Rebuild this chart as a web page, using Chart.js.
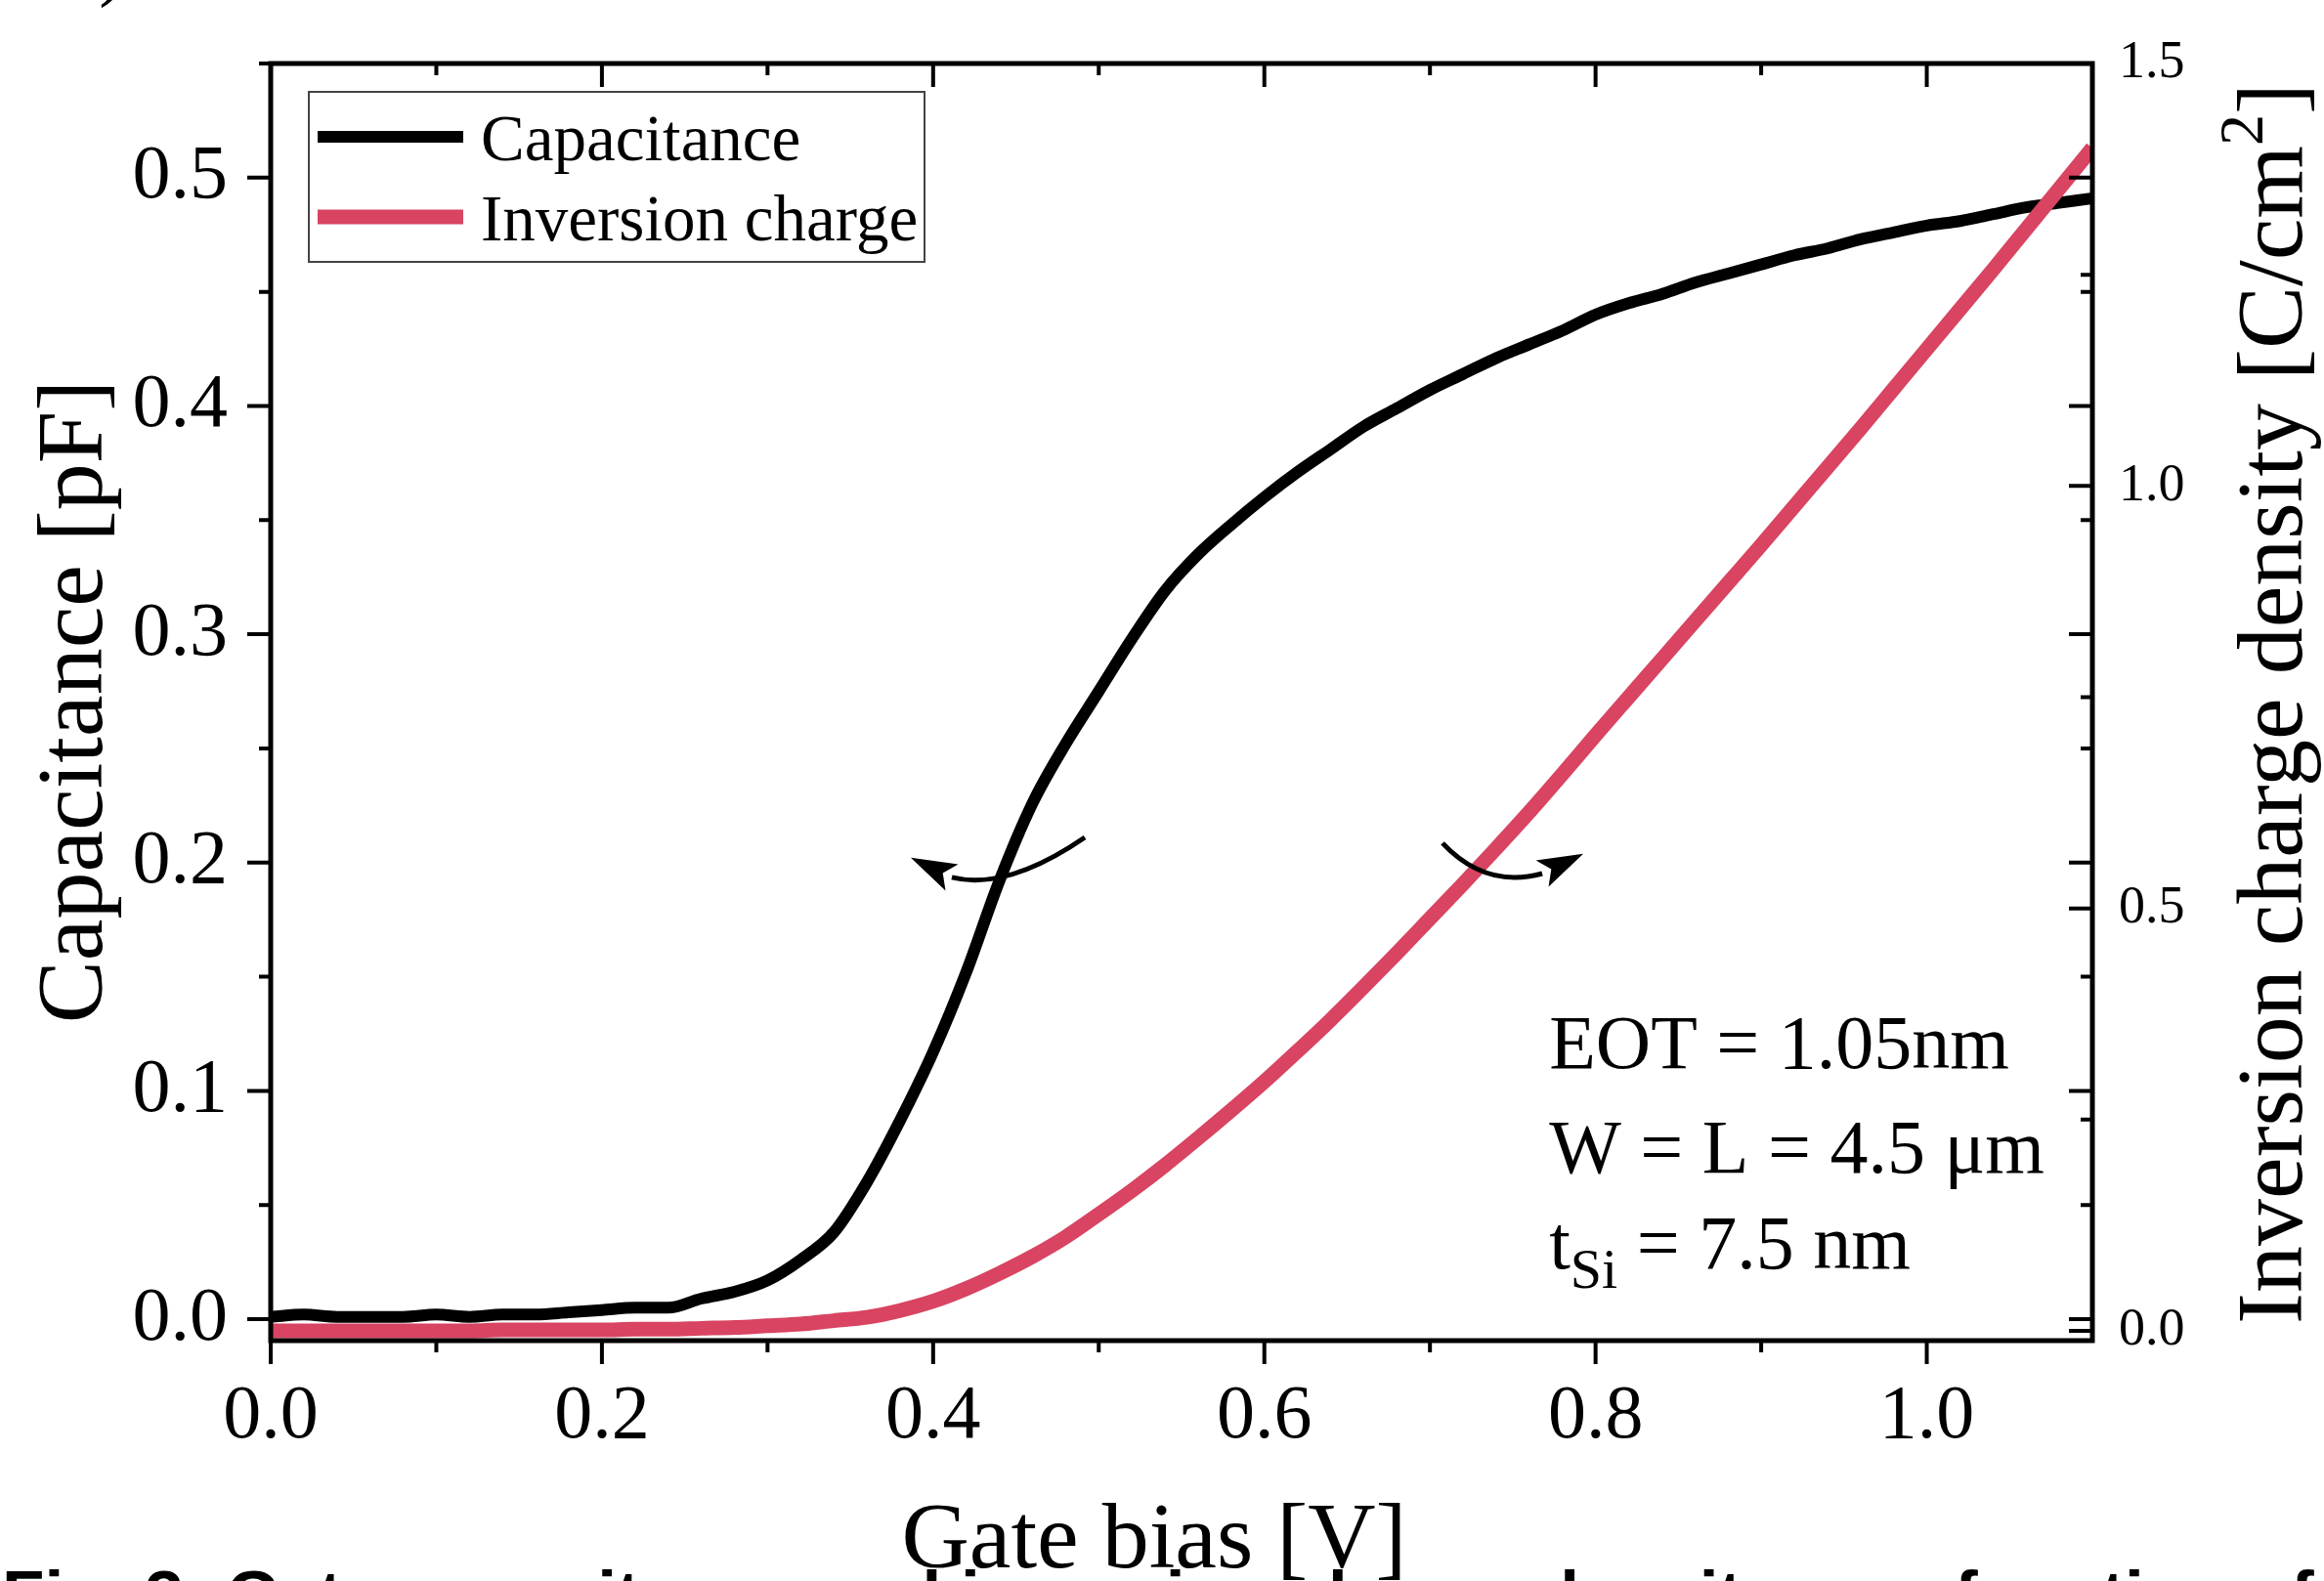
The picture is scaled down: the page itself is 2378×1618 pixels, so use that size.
<!DOCTYPE html>
<html>
<head>
<meta charset="utf-8">
<title>Gate capacitance and inversion charge density</title>
<script src="https://cdn.jsdelivr.net/npm/chart.js@4.4.1/dist/chart.umd.min.js"></script>
<style>
    html, body { margin: 0; padding: 0; background: #fff; }
    #cv-chart { display: block; }
</style>
</head>
<body>
<canvas id="cv-chart" width="2378" height="1618"></canvas>
<script>
// Gate bias sweep [V]
const gateBias = [0.00, 0.02, 0.04, 0.06, 0.08, 0.10, 0.12, 0.14, 0.16, 0.18,
    0.20, 0.22, 0.24, 0.26, 0.28, 0.30, 0.32, 0.34, 0.36, 0.38,
    0.40, 0.42, 0.44, 0.46, 0.48, 0.50, 0.52, 0.54, 0.56, 0.58,
    0.60, 0.62, 0.64, 0.66, 0.68, 0.70, 0.72, 0.74, 0.76, 0.78,
    0.80, 0.82, 0.84, 0.86, 0.88, 0.90, 0.92, 0.94, 0.96, 0.98,
    1.00, 1.02, 1.04, 1.06, 1.08, 1.10];

// Capacitance [pF] (left axis)
const capacitance = [0.001, 0.002, 0.001, 0.001, 0.001, 0.002, 0.001, 0.002, 0.002, 0.003,
    0.004, 0.005, 0.005, 0.009, 0.012, 0.017, 0.026, 0.038, 0.060, 0.087,
    0.117, 0.152, 0.192, 0.226, 0.252, 0.275, 0.298, 0.319, 0.335, 0.348,
    0.360, 0.371, 0.381, 0.391, 0.399, 0.407, 0.414, 0.421, 0.427, 0.433,
    0.440, 0.445, 0.449, 0.454, 0.458, 0.462, 0.466, 0.469, 0.473, 0.476,
    0.479, 0.481, 0.484, 0.487, 0.489, 0.491];

// Inversion charge density [C/cm2] (right axis)
const inversionCharge = [0.000, 0.000, 0.000, 0.000, 0.000, 0.000, 0.000, 0.001, 0.001, 0.001,
    0.001, 0.002, 0.002, 0.003, 0.004, 0.006, 0.008, 0.012, 0.016, 0.024,
    0.035, 0.050, 0.068, 0.088, 0.111, 0.138, 0.166, 0.196, 0.228, 0.261,
    0.295, 0.331, 0.368, 0.407, 0.447, 0.488, 0.529, 0.571, 0.614, 0.659,
    0.705, 0.750, 0.795, 0.840, 0.885, 0.930, 0.976, 1.022, 1.068, 1.115,
    1.162, 1.209, 1.256, 1.304, 1.352, 1.400];

// Tick values
const xTicks = [0, 0.2, 0.4, 0.6, 0.8, 1.0];
const xMinorTicks = [0.1, 0.3, 0.5, 0.7, 0.9];
const capTicks = [0, 0.1, 0.2, 0.3, 0.4, 0.5];
const capMinorTicks = [0.05, 0.15, 0.25, 0.35, 0.45, 0.55];
const chargeTicks = [0, 0.5, 1.0, 1.5];
const chargeMinorTicks = [0.25, 0.75, 1.25];

const seriesLabels = ['Capacitance', 'Inversion charge'];
const SERIF = "'Liberation Serif', 'Times New Roman', Times, serif";
const SANS = "'Liberation Sans', Arial, Helvetica, sans-serif";
const RED = '#d84462';

// Curved arrows, in (bias, capacitance) units
const arrowToCap = { from: [0.4916, 0.2110], ctrl: [0.4444, 0.1875], to: [0.4113, 0.1935], tip: [0.3865, 0.2021] };
const arrowToCharge = { from: [0.7076, 0.2085], ctrl: [0.7336, 0.1884], to: [0.7678, 0.1952], tip: [0.7926, 0.2038] };

// Fixed axis box sizes so the plot area lands where the figure has it
function fixBox(size) {
    return function(scale) {
        if (scale.isHorizontal()) {
            scale.height = size;
            scale.paddingLeft = 0;
            scale.paddingRight = 0;
        } else {
            scale.width = size;
            scale.paddingTop = 0;
            scale.paddingBottom = 0;
        }
    };
}

document.addEventListener('DOMContentLoaded', function() {
    const ctx = document.getElementById('cv-chart').getContext('2d');
    window.cvChart = new Chart(ctx, {
        type: 'line',
        data: {
            datasets: [{
                label: seriesLabels[0],
                data: gateBias.map((v, i) => ({ x: v, y: capacitance[i] })),
                yAxisID: 'y',
                borderColor: '#000',
                borderWidth: 12,
                borderJoinStyle: 'round',
                pointRadius: 0,
                cubicInterpolationMode: 'monotone',
                order: 1
            }, {
                label: seriesLabels[1],
                data: gateBias.map((v, i) => ({ x: v, y: inversionCharge[i] })),
                yAxisID: 'y2',
                borderColor: RED,
                borderWidth: 15,
                borderJoinStyle: 'round',
                pointRadius: 0,
                cubicInterpolationMode: 'monotone',
                order: 0
            }]
        },
        options: {
            responsive: false,
            animation: false,
            devicePixelRatio: 1,
            layout: { padding: { top: 65, left: 0, right: 0, bottom: 0 } },
            plugins: {
                legend: { display: false },
                tooltip: { enabled: false },
                title: { display: false }
            },
            scales: {
                x: {
                    type: 'linear',
                    min: 0,
                    max: 1.1,
                    grid: { display: false, drawTicks: false },
                    border: { display: false },
                    afterBuildTicks: function(scale) {
                        scale.ticks = xTicks.map(v => ({ value: v }));
                    },
                    afterFit: fixBox(246),
                    ticks: {
                        font: { family: SERIF, size: 78 },
                        color: '#000',
                        padding: 32,
                        maxRotation: 0,
                        callback: v => v.toFixed(1)
                    }
                },
                y: {
                    type: 'linear',
                    position: 'left',
                    min: -0.0094,
                    max: 0.55,
                    grid: { display: false, drawTicks: false },
                    border: { display: false },
                    afterBuildTicks: function(scale) {
                        scale.ticks = capTicks.map(v => ({ value: v }));
                    },
                    afterFit: fixBox(277),
                    ticks: {
                        font: { family: SERIF, size: 78 },
                        color: '#000',
                        padding: 44,
                        callback: v => v.toFixed(1)
                    }
                },
                y2: {
                    type: 'linear',
                    position: 'right',
                    min: -0.0116,
                    max: 1.5,
                    grid: { display: false, drawTicks: false },
                    border: { display: false },
                    afterBuildTicks: function(scale) {
                        scale.ticks = chargeTicks.map(v => ({ value: v }));
                    },
                    afterFit: fixBox(237),
                    ticks: {
                        font: { family: SERIF, size: 54 },
                        color: '#000',
                        padding: 27,
                        callback: v => v.toFixed(1)
                    }
                }
            }
        },
        plugins: [frameAndTicks, legendBox, annotations, axisTitles]
    });
});

// Box frame with Origin-style ticks (outer on left/bottom, inner on top/right)
const frameAndTicks = {
    id: 'frameAndTicks',
    afterDatasetsDraw(chart) {
        const { ctx, chartArea: a, scales } = chart;
        const major = 24, minor = 12;
        ctx.save();
        ctx.strokeStyle = '#000';
        ctx.lineWidth = 4;
        ctx.beginPath();
        xTicks.concat(xMinorTicks).forEach(v => {
            const px = scales.x.getPixelForValue(v);
            const len = xTicks.includes(v) ? major : minor;
            ctx.moveTo(px, a.bottom); ctx.lineTo(px, a.bottom + len);
            ctx.moveTo(px, a.top); ctx.lineTo(px, a.top + len);
        });
        capTicks.concat(capMinorTicks).forEach(v => {
            const py = scales.y.getPixelForValue(v);
            const len = capTicks.includes(v) ? major : minor;
            ctx.moveTo(a.left, py); ctx.lineTo(a.left - len, py);
            ctx.moveTo(a.right, py); ctx.lineTo(a.right - len, py);
        });
        chargeTicks.concat(chargeMinorTicks).forEach(v => {
            const py = scales.y2.getPixelForValue(v);
            const len = chargeTicks.includes(v) ? major : minor;
            ctx.moveTo(a.right, py); ctx.lineTo(a.right - len, py);
        });
        ctx.stroke();
        ctx.lineWidth = 5;
        ctx.strokeRect(a.left, a.top, a.right - a.left, a.bottom - a.top);
        ctx.restore();
    }
};

// Legend in the upper left corner of the plot
const legendBox = {
    id: 'legendBox',
    afterDatasetsDraw(chart) {
        const ctx = chart.ctx;
        const box = { x: 316, y: 94, w: 630, h: 174 };
        ctx.save();
        ctx.fillStyle = '#fff';
        ctx.fillRect(box.x, box.y, box.w, box.h);
        ctx.strokeStyle = '#444';
        ctx.lineWidth = 2;
        ctx.strokeRect(box.x, box.y, box.w, box.h);
        const rows = [140, 222];
        chart.data.datasets.forEach((ds, i) => {
            ctx.strokeStyle = ds.borderColor;
            ctx.lineWidth = ds.borderWidth;
            ctx.beginPath();
            ctx.moveTo(325, rows[i]);
            ctx.lineTo(474, rows[i]);
            ctx.stroke();
            ctx.fillStyle = '#000';
            ctx.font = '67px ' + SERIF;
            ctx.textBaseline = 'alphabetic';
            ctx.fillText(ds.label, 492, rows[i] + 24);
        });
        ctx.restore();
    }
};

function drawArrow(ctx, xs, ys, a) {
    const p = v => [xs.getPixelForValue(v[0]), ys.getPixelForValue(v[1])];
    const s = p(a.from), c = p(a.ctrl), e = p(a.to), t = p(a.tip);
    ctx.beginPath();
    ctx.moveTo(s[0], s[1]);
    ctx.quadraticCurveTo(c[0], c[1], e[0], e[1]);
    ctx.stroke();
    const dx = t[0] - e[0], dy = t[1] - e[1];
    const len = Math.hypot(dx, dy);
    const ux = dx / len, uy = dy / len, nx = -uy, ny = ux, w = 15;
    ctx.beginPath();
    ctx.moveTo(t[0], t[1]);
    ctx.lineTo(e[0] + nx * w, e[1] + ny * w);
    ctx.lineTo(e[0] + ux * len * 0.22, e[1] + uy * len * 0.22);
    ctx.lineTo(e[0] - nx * w, e[1] - ny * w);
    ctx.closePath();
    ctx.fill();
}

// Device parameters and arrows
const annotations = {
    id: 'annotations',
    afterDatasetsDraw(chart) {
        const { ctx, scales } = chart;
        ctx.save();
        ctx.strokeStyle = '#000';
        ctx.fillStyle = '#000';
        ctx.lineWidth = 5;
        drawArrow(ctx, scales.x, scales.y, arrowToCap);
        drawArrow(ctx, scales.x, scales.y, arrowToCharge);

        const x0 = scales.x.getPixelForValue(0.772);
        const y0 = scales.y.getPixelForValue(0.110);
        ctx.textBaseline = 'alphabetic';
        ctx.textAlign = 'left';
        ctx.font = '78px ' + SERIF;
        ctx.fillText('EOT = 1.05nm', x0, y0);
        ctx.fillText('W = L = 4.5 μm', x0, y0 + 107);
        ctx.fillText('t', x0, y0 + 205);
        const tw = ctx.measureText('t').width;
        ctx.font = '58px ' + SERIF;
        ctx.fillText('Si', x0 + tw, y0 + 225);
        const sw = ctx.measureText('Si').width;
        ctx.font = '78px ' + SERIF;
        ctx.fillText(' = 7.5 nm', x0 + tw + sw, y0 + 205);
        ctx.restore();
    }
};

// Axis titles, plus the clipped caption remnants at the page edges
const axisTitles = {
    id: 'axisTitles',
    afterDraw(chart) {
        const ctx = chart.ctx;
        ctx.save();
        ctx.fillStyle = '#000';
        ctx.textBaseline = 'alphabetic';

        ctx.font = '96px ' + SERIF;
        ctx.textAlign = 'center';
        ctx.fillText('Gate bias [V]', 1181, 1604);

        ctx.save();
        ctx.translate(104, 718);
        ctx.rotate(-Math.PI / 2);
        ctx.fillText('Capacitance [pF]', 0, 0);
        ctx.restore();

        // right title with superscript
        const parts = [
            { text: 'Inversion charge density [C/cm', size: 96, rise: 0 },
            { text: '2', size: 64, rise: 40 },
            { text: ']', size: 96, rise: 0 }
        ];
        ctx.textAlign = 'left';
        let total = 0;
        parts.forEach(p => {
            ctx.font = p.size + 'px ' + SERIF;
            p.w = ctx.measureText(p.text).width;
            total += p.w;
        });
        ctx.save();
        ctx.translate(2355, 720);
        ctx.rotate(-Math.PI / 2);
        let cx = -total / 2;
        parts.forEach(p => {
            ctx.font = p.size + 'px ' + SERIF;
            ctx.fillText(p.text, cx, -p.rise);
            cx += p.w;
        });
        ctx.restore();

        // caption below the figure, mostly cut off
        const caption = 'Fig. 3: Gate capacitance and inversion charge density as a function of';
        ctx.font = 'bold 62px ' + SANS;
        const size = 62 * 2366 / ctx.measureText(caption).width;
        ctx.font = 'bold ' + size.toFixed(1) + 'px ' + SANS;
        ctx.fillText(caption, 2, 1606 + 0.716 * size);

        // panel label, cut off at the top edge
        ctx.font = '80px ' + SERIF;
        ctx.textAlign = 'right';
        ctx.fillText('b)', 128, -9);
        ctx.restore();
    }
};
</script>
</body>
</html>
